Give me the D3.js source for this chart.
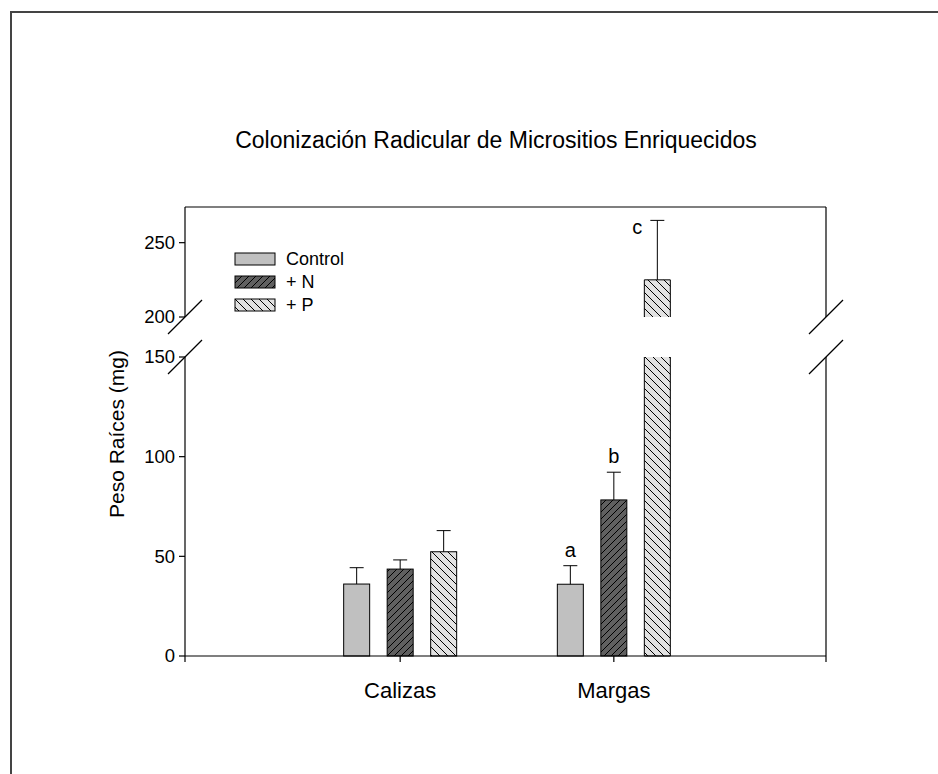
<!DOCTYPE html>
<html><head><meta charset="utf-8">
<script src="https://cdn.jsdelivr.net/npm/d3@7"></script>
<style>body{margin:0;background:#fff}svg{display:block;font-family:"Liberation Sans",Arial,sans-serif}</style>
</head><body>
<svg id="c" width="938" height="774"></svg>
<script>
const categories = ["Calizas", "Margas"];
const series = ["Control", "+ N", "+ P"];
const valuesCalizas = [36.1, 43.6, 52.3];
const valuesMargas = [36.0, 78.3, 225.0];
const errCalizas = [8.2, 4.6, 10.6];
const errMargas = [9.3, 13.9, 40.0];
const lettersCalizas = ["", "", ""];
const lettersMargas = ["a", "b", "c"];
const lowerTicks = [0, 50, 100, 150];
const upperTicks = [200, 250];
const titleText = "Colonización Radicular de Micrositios Enriquecidos";
const yTitle = "Peso Raíces (mg)";

const data = categories.map((c, i) => ({
  cat: c,
  vals: series.map((s, j) => ({
    s, j,
    v: (i === 0 ? valuesCalizas : valuesMargas)[j],
    e: (i === 0 ? errCalizas : errMargas)[j],
    l: (i === 0 ? lettersCalizas : lettersMargas)[j]
  }))
}));

const svg = d3.select("#c");
const L = 185, R = 826, T = 207, B = 656;
const x = d3.scaleLinear().domain([0, 3]).range([L, R]);
const xo = d3.scalePoint().domain(series).range([-43.5, 43.5]);
const bw = 26;
const yLo = d3.scaleLinear().domain([0, 150]).range([B, 357]);
const yHi = d3.scaleLinear().domain([200, 274]).range([317, T]);
const breakLo = 150, breakHi = 200;

// patterns
const defs = svg.append("defs");
function hatch(id, bg, size, dir) {
  const p = defs.append("pattern").attr("id", id).attr("patternUnits", "userSpaceOnUse")
    .attr("width", size).attr("height", size);
  p.append("rect").attr("width", size).attr("height", size).attr("fill", bg);
  const d = dir === "/" ?
    `M0,${size} L${size},0 M${-size/2},${size/2} L${size/2},${-size/2} M${size/2},${size*1.5} L${size*1.5},${size/2}` :
    `M0,0 L${size},${size} M${-size/2},${size/2} L${size/2},${size*1.5} M${size/2},${-size/2} L${size*1.5},${size/2}`;
  p.append("path").attr("d", d).attr("stroke", "#000").attr("stroke-width", 1).attr("shape-rendering", "crispEdges");
}
hatch("hN", "#606060", 7, "/");
hatch("hP", "#e2e2e2", 8, "\\");
const fills = ["#c0c0c0", "url(#hN)", "url(#hP)"];

// outer frame
svg.append("rect").attr("x", 11).attr("y", 12).attr("width", 1000).attr("height", 1000)
  .attr("fill", "none").attr("stroke", "#444").attr("stroke-width", 2);

// title
svg.append("text").attr("x", 496).attr("y", 148).attr("text-anchor", "middle")
  .attr("font-size", 23).text(titleText);

// bars
const g = svg.append("g");
data.forEach((d, i) => {
  const cx = x(i + 1) + 1.5;
  d.vals.forEach(b => {
    const x0 = cx + xo(b.s) - bw / 2;
    const fill = fills[b.j];
    if (b.v <= breakLo) {
      g.append("rect").attr("x", x0).attr("y", yLo(b.v)).attr("width", bw)
        .attr("height", yLo(0) - yLo(b.v)).attr("fill", fill).attr("stroke", "#000").attr("stroke-width", 1);
    } else {
      g.append("rect").attr("x", x0).attr("y", yLo(breakLo)).attr("width", bw)
        .attr("height", yLo(0) - yLo(breakLo)).attr("fill", fill).attr("stroke", "none");
      g.append("path").attr("d", `M${x0},${yLo(breakLo)} V${yLo(0)} H${x0 + bw} V${yLo(breakLo)}`)
        .attr("fill", "none").attr("stroke", "#000");
      g.append("rect").attr("x", x0).attr("y", yHi(b.v)).attr("width", bw)
        .attr("height", yHi(breakHi) - yHi(b.v)).attr("fill", fill).attr("stroke", "none");
      g.append("path").attr("d", `M${x0},${yHi(breakHi)} V${yHi(b.v)} H${x0 + bw} V${yHi(breakHi)}`)
        .attr("fill", "none").attr("stroke", "#000");
    }
    const yf = v => v <= breakLo ? yLo(v) : yHi(v);
    const xc = cx + xo(b.s);
    const yTop = yf(b.v), yErr = yf(b.v + b.e);
    g.append("line").attr("x1", xc).attr("x2", xc).attr("y1", yTop).attr("y2", yErr).attr("stroke", "#000");
    g.append("line").attr("x1", xc - 7).attr("x2", xc + 7).attr("y1", yErr).attr("y2", yErr).attr("stroke", "#000");
    if (b.l) {
      const outside = yErr - 30 < T;
      g.append("text").attr("font-size", 20).attr("text-anchor", "middle")
        .attr("x", outside ? xc - 20 : xc)
        .attr("y", outside ? yErr + 14 : yErr - 9)
        .text(b.l);
    }
  });
});

// axes frame lines
const ax = svg.append("g").attr("stroke", "#000").attr("stroke-width", 1.2).attr("fill", "none");
[L, R].forEach(xx => {
  ax.append("line").attr("x1", xx).attr("x2", xx).attr("y1", T).attr("y2", yHi(breakHi));
  ax.append("line").attr("x1", xx).attr("x2", xx).attr("y1", yLo(breakLo)).attr("y2", B + 6);
  [yHi(breakHi), yLo(breakLo)].forEach(yy => {
    ax.append("line").attr("x1", xx - 17).attr("y1", yy + 17).attr("x2", xx + 17).attr("y2", yy - 17);
  });
});
ax.append("line").attr("x1", L).attr("x2", R).attr("y1", T).attr("y2", T);
ax.append("line").attr("x1", L).attr("x2", R).attr("y1", B).attr("y2", B);

// y ticks
function yTicks(scale, ticks) {
  ticks.forEach(t => {
    ax.append("line").attr("x1", L - 6).attr("x2", L).attr("y1", scale(t)).attr("y2", scale(t));
    svg.append("text").attr("x", L - 10).attr("y", scale(t)).attr("dy", "0.35em")
      .attr("text-anchor", "end").attr("font-size", 18.5).text(t);
  });
}
yTicks(yLo, lowerTicks);
yTicks(yHi, upperTicks);

// x ticks
[1, 2].forEach(t => {
  ax.append("line").attr("x1", x(t) + 1.5).attr("x2", x(t) + 1.5).attr("y1", B).attr("y2", B + 6);
});
categories.forEach((c, i) => {
  svg.append("text").attr("x", x(i + 1) + 1.5).attr("y", 698).attr("text-anchor", "middle")
    .attr("font-size", 22).text(c);
});

// y title
svg.append("text").attr("transform", `translate(124,434) rotate(-90)`).attr("text-anchor", "middle")
  .attr("font-size", 21).text(yTitle);

// legend
const lg = svg.append("g");
series.forEach((s, j) => {
  const yy = 253 + j * 23;
  lg.append("rect").attr("x", 235).attr("y", yy).attr("width", 40).attr("height", 12)
    .attr("fill", fills[j]).attr("stroke", "#000");
  lg.append("text").attr("x", 286).attr("y", yy + 6).attr("dy", "0.35em").attr("font-size", 18).text(s);
});
</script>
</body></html>
